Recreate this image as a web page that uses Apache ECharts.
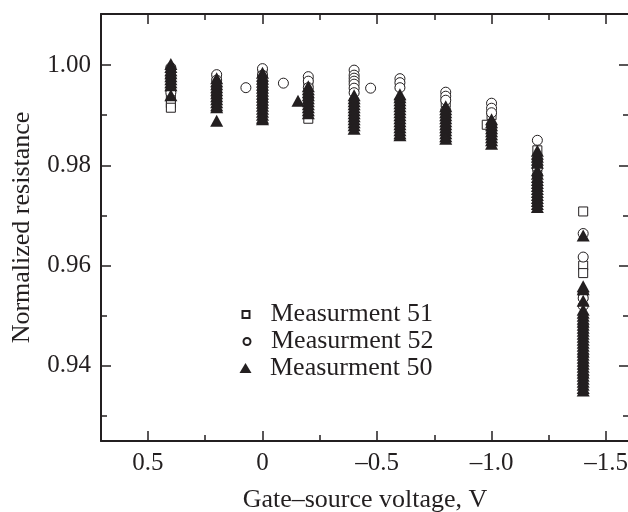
<!DOCTYPE html>
<html>
<head>
<meta charset="utf-8">
<script src="https://cdn.jsdelivr.net/npm/echarts/dist/echarts.min.js"></script>
<style>
html,body{margin:0;padding:0;background:#fff;}
#chart{width:628px;height:512px;}
</style>
</head>
<body>
<div id="chart"></div>
<script>
// ---- data ----
const voltages = [0.4, 0.2, 0, -0.2, -0.4, -0.6, -0.8, -1.0, -1.2, -1.4];

// Measurment 51 (squares), one list per voltage
const meas51 = [
  [0.9990, 0.9970, 0.9935, 0.9924, 0.9915],
  [0.9975, 0.9950, 0.9930],
  [0.9985, 0.9960, 0.9940, 0.9920],
  [0.9965, 0.9930, 0.9893],
  [0.9950, 0.9925, 0.9895],
  [0.9960, 0.9920, 0.9880],
  [0.9925, 0.9895, 0.9870],
  [0.9900, 0.9870],
  [0.9830, 0.9795, 0.9760, 0.9730],
  [0.9708, 0.9600, 0.9585, 0.9540, 0.9470, 0.9400]
];
// Measurment 52 (circles)
const meas52 = [
  [0.9995, 0.9975, 0.9950, 0.9945],
  [0.9981, 0.9970, 0.9955, 0.9940],
  [0.9993, 0.9980, 0.9965, 0.9950, 0.9930],
  [0.9977, 0.9968, 0.9955, 0.9935],
  [0.9990, 0.9980, 0.9974, 0.9968, 0.9962, 0.9954, 0.9945],
  [0.9973, 0.9965, 0.9955, 0.9930],
  [0.9946, 0.9938, 0.9930, 0.9910],
  [0.9924, 0.9914, 0.9905, 0.9880],
  [0.9850, 0.9810, 0.9795, 0.9780],
  [0.9664, 0.9617, 0.9545, 0.9535, 0.9520, 0.9480, 0.9420, 0.9380]
];
// Measurment 50 (filled triangles)
const meas50 = [
  [1.0002, 0.9996, 0.9990, 0.9984, 0.9978, 0.9972, 0.9966, 0.9960, 0.9940],
  [0.9974, 0.9968, 0.9962, 0.9956, 0.9950, 0.9944, 0.9938, 0.9932, 0.9926, 0.9920, 0.9916, 0.9889],
  [0.9985, 0.9979, 0.9973, 0.9967, 0.9961, 0.9955, 0.9949, 0.9943, 0.9937, 0.9931, 0.9925, 0.9919, 0.9913, 0.9907, 0.9901, 0.9895, 0.9892],
  [0.9958, 0.9952, 0.9946, 0.9940, 0.9934, 0.9928, 0.9922, 0.9916, 0.9910, 0.9904],
  [0.9940, 0.9934, 0.9928, 0.9922, 0.9916, 0.9910, 0.9904, 0.9898, 0.9892, 0.9886, 0.9880, 0.9873],
  [0.9942, 0.9936, 0.9930, 0.9924, 0.9918, 0.9912, 0.9906, 0.9900, 0.9894, 0.9888, 0.9882, 0.9876, 0.9870, 0.9864, 0.9860],
  [0.9918, 0.9912, 0.9906, 0.9900, 0.9894, 0.9888, 0.9882, 0.9876, 0.9870, 0.9864, 0.9858, 0.9853],
  [0.9892, 0.9886, 0.9880, 0.9874, 0.9868, 0.9862, 0.9856, 0.9850, 0.9843],
  [0.9829, 0.9823, 0.9817, 0.9811, 0.9805, 0.9790, 0.9783, 0.9777, 0.9771, 0.9765, 0.9759, 0.9753, 0.9747, 0.9741, 0.9735, 0.9729, 0.9723, 0.9717],
  [0.9660, 0.9559, 0.9553, 0.9530, 0.9512, 0.9506, 0.9500, 0.9494, 0.9488, 0.9482, 0.9476, 0.9470, 0.9464, 0.9458, 0.9452, 0.9446, 0.9440, 0.9434, 0.9428, 0.9422, 0.9416, 0.9410, 0.9404, 0.9398, 0.9392, 0.9386, 0.9380, 0.9374, 0.9368, 0.9362, 0.9356, 0.9351]
];
// isolated points [voltage, resistance]
const extra51 = [[-0.979, 0.9881]];
const extra52 = [[0.0725, 0.9955], [-0.0913, 0.9964], [-0.472, 0.9954]];
const extra50 = [[-0.155, 0.9929]];

const xMajor = [0.5, 0, -0.5, -1.0, -1.5];
const xMinor = [0.25, -0.25, -0.75, -1.25];
const yMajor = [0.94, 0.96, 0.98, 1.00];
const yMinor = [0.93, 0.95, 0.97, 0.99];

const names = ['Measurment 51', 'Measurment 52', 'Measurment 50'];

// ---- build ----
function build(cols, extra) {
  const out = [];
  voltages.forEach((v, i) => cols[i].forEach(r => out.push([v, r])));
  return out.concat(extra);
}

const INK = '#231f20';
const FONT = 'Liberation Serif';
const X_MIN = -1.6, X_MAX = 0.705, Y_MIN = 0.925, Y_MAX = 1.0102;

function xAxisDef(pos, ticks, len, withLine, withLabel) {
  return {
    type: 'value', position: pos, inverse: true, min: X_MIN, max: X_MAX,
    axisLine: {show: withLine, onZero: false, lineStyle: {color: INK, width: 2}},
    axisTick: {show: true, inside: true, length: len, customValues: ticks, lineStyle: {color: INK, width: 1.5}},
    axisLabel: withLabel ? {
      show: true, customValues: ticks, margin: 10, color: INK, fontFamily: FONT, fontSize: 25,
      formatter: v => v === 0 ? '0' : (v < 0 ? '\u2013' : '') + Math.abs(v).toFixed(1)
    } : {show: false},
    splitLine: {show: false}
  };
}
function yAxisDef(pos, ticks, len, withLine, withLabel) {
  return {
    type: 'value', position: pos, min: Y_MIN, max: Y_MAX,
    axisLine: {show: withLine, onZero: false, lineStyle: {color: INK, width: 2}},
    axisTick: {show: true, inside: true, length: len, customValues: ticks, lineStyle: {color: INK, width: 1.5}},
    axisLabel: withLabel ? {
      show: true, customValues: ticks, margin: 10, color: INK, fontFamily: FONT, fontSize: 25,
      formatter: v => v.toFixed(2)
    } : {show: false},
    splitLine: {show: false}
  };
}

const xAxes = [
  xAxisDef('bottom', xMajor, 10, true, true),
  xAxisDef('bottom', xMinor, 6, false, false),
  xAxisDef('top', xMajor, 10, true, false),
  xAxisDef('top', xMinor, 6, false, false)
];
Object.assign(xAxes[0], {
  name: 'Gate\u2013source voltage, V', nameLocation: 'middle', nameGap: 46,
  nameTextStyle: {color: INK, fontFamily: FONT, fontSize: 26}
});
const yAxes = [
  yAxisDef('left', yMajor, 10, true, true),
  yAxisDef('left', yMinor, 6, false, false),
  yAxisDef('right', yMajor, 10, true, false),
  yAxisDef('right', yMinor, 6, false, false)
];
Object.assign(yAxes[0], {
  name: 'Normalized resistance', nameLocation: 'middle', nameGap: 66,
  nameTextStyle: {color: INK, fontFamily: FONT, fontSize: 26}
});

function legendDef(name, left, top, w, h, pad) {
  return {
    data: [name], left: left, top: top, orient: 'vertical', padding: 0,
    itemWidth: w, itemHeight: h, selectedMode: false,
    textStyle: {color: INK, fontFamily: FONT, fontSize: 26, lineHeight: 26, padding: [0, 0, 0, pad]}
  };
}

const chart = echarts.init(document.getElementById('chart'), null, {renderer: 'canvas'});
chart.setOption({
  animation: false,
  backgroundColor: '#fff',
  grid: {left: 101, top: 14, right: -1, bottom: 71, containLabel: false, outerBoundsMode: 'none'},
  xAxis: xAxes,
  yAxis: yAxes,
  legend: [
    legendDef(names[0], 241.5, 301.5, 7, 7, 16),
    legendDef(names[1], 242.5, 328.5, 7, 7, 15.5),
    legendDef(names[2], 239.5, 355, 12, 10, 13.5)
  ],
  series: [
    {
      name: names[0], type: 'scatter', symbol: 'rect', symbolSize: 9,
      itemStyle: {color: '#fff', borderColor: INK, borderWidth: 1, opacity: 1},
      data: build(meas51, extra51)
    },
    {
      name: names[1], type: 'scatter', symbol: 'circle', symbolSize: 10,
      itemStyle: {color: '#fff', borderColor: INK, borderWidth: 1, opacity: 1},
      data: build(meas52, extra52)
    },
    {
      name: names[2], type: 'scatter', symbol: 'triangle', symbolSize: [13, 12],
      itemStyle: {color: INK, borderColor: INK, borderWidth: 0, opacity: 1},
      data: build(meas50, extra50)
    }
  ]
});
</script>
</body>
</html>
